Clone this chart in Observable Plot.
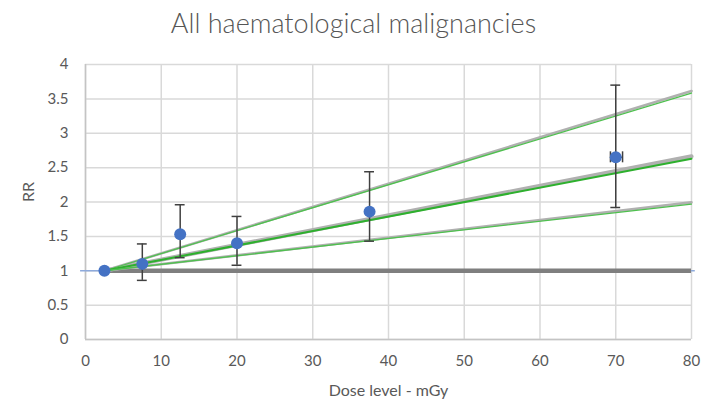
<!DOCTYPE html>
<html>
<head>
<meta charset="utf-8">
<script src="https://cdn.jsdelivr.net/npm/d3@7"></script>
<script src="https://cdn.jsdelivr.net/npm/@observablehq/plot@0.6"></script>
<style>
  html, body { margin: 0; padding: 0; background: #fff; }
  #title { height: 46px; line-height: 46px; text-align: center; font-family: Lato, "Open Sans", sans-serif; font-size: 27px; font-weight: 300; color: #555555; padding-left: 4px; }
  svg { display: block; }
</style>
</head>
<body>
<div id="title">All haematological malignancies</div>
<div id="chart"></div>
<script>
// Data
const dose = [2.5, 7.5, 12.5, 20, 37.5, 70];
const rr = [1.0, 1.1, 1.53, 1.40, 1.86, 2.65];
const rrLower = [null, 0.86, 1.19, 1.08, 1.43, 1.92];
const rrUpper = [null, 1.39, 1.96, 1.79, 2.44, 3.70];
const doseLower = [null, null, null, null, null, 69.3];
const doseUpper = [null, null, null, null, null, 70.9];

// Fitted lines (start at 2.5 mGy, RR 1; end at 80 mGy)
const fitStart = {dose: 2.5, rr: 1};
const fitEndDose = 80;
const fitGrayEnd = [3.615, 2.665, 1.995];
const fitGreenEnd = [3.585, 2.63, 1.97];
const fitWidthScale = [1, 1.6, 1];
const baselineRR = 1;

const xTicks = [0, 10, 20, 30, 40, 50, 60, 70, 80];
const yTicks = [0, 0.5, 1, 1.5, 2, 2.5, 3, 3.5, 4];

const points = dose.map((d, i) => ({dose: d, rr: rr[i], lo: rrLower[i], hi: rrUpper[i], dlo: doseLower[i], dhi: doseUpper[i]}));
const withErr = points.filter(d => d.lo != null);
const withXErr = points.filter(d => d.dlo != null);
const grayLines = fitGrayEnd.flatMap((e, i) => [{k: i, dose: fitStart.dose, rr: fitStart.rr}, {k: i, dose: fitEndDose, rr: e}]);
const greenLines = fitGreenEnd.flatMap((e, i) => [{k: i, dose: fitStart.dose, rr: fitStart.rr}, {k: i, dose: fitEndDose, rr: e}]);

const capHalf = 0.65;
const font = "Lato, 'Open Sans', sans-serif";
const fmt = d => String(d);

const chart = Plot.plot({
  width: 703,
  height: 358,
  marginTop: 18,
  marginBottom: 65,
  marginLeft: 85,
  marginRight: 12,
  style: {fontFamily: font, fontSize: "15px", color: "#595959", background: "#fff"},
  x: {domain: [0, 80], label: null},
  y: {domain: [0, 4], label: null},
  marks: [
    Plot.gridX(xTicks, {stroke: "#d9d9d9", strokeOpacity: 1, strokeWidth: 1.5}),
    Plot.gridY(yTicks, {stroke: "#d9d9d9", strokeOpacity: 1, strokeWidth: 1.5}),
    Plot.ruleX([0], {stroke: "#c4c4c4", strokeWidth: 1.5}),
    Plot.ruleY([0], {stroke: "#c4c4c4", strokeWidth: 1.5}),
    Plot.axisX(xTicks, {tickSize: 0, tickPadding: 16, fontSize: 15, fill: "#595959", label: null, tickFormat: fmt}),
    Plot.axisY(yTicks, {tickSize: 0, tickPadding: 17, fontSize: 15, fill: "#595959", label: null, tickFormat: fmt}),
    Plot.text(["Dose level - mGy"], {frameAnchor: "bottom", lineAnchor: "middle", dy: 51, fontSize: 16, fill: "#595959"}),
    Plot.text(["RR"], {frameAnchor: "left", dx: -57, rotate: -90, fontSize: 16, fill: "#595959"}),
    // light blue reference line
    Plot.ruleY([baselineRR], {x1: -0.65, x2: 80.5, stroke: "#8eaadb", strokeWidth: 1.5, clip: false}),
    // grey baseline
    Plot.ruleY([baselineRR], {x1: fitStart.dose, x2: fitEndDose, stroke: "#7f7f7f", strokeWidth: 4.5}),
    // fitted lines: grey underlay + green overlay
    ...fitGrayEnd.map((_, i) => Plot.line(grayLines.filter(d => d.k === i), {x: "dose", y: "rr", stroke: "#b0b0b0", strokeWidth: 2.6 * fitWidthScale[i]})),
    ...fitGreenEnd.map((_, i) => Plot.line(greenLines.filter(d => d.k === i), {x: "dose", y: "rr", stroke: i === 1 ? "#2eb02e" : "#4fc04f", strokeWidth: 1.3 * fitWidthScale[i]})),
    // error bars
    Plot.ruleX(withErr, {x: "dose", y1: "lo", y2: "hi", stroke: "#404040", strokeWidth: 1.5}),
    Plot.ruleY(withErr, {y: "hi", x1: d => d.dose - capHalf, x2: d => d.dose + capHalf, stroke: "#404040", strokeWidth: 1.5}),
    Plot.ruleY(withErr, {y: "lo", x1: d => d.dose - capHalf, x2: d => d.dose + capHalf, stroke: "#404040", strokeWidth: 1.5}),
    Plot.ruleY(withXErr, {y: "rr", x1: "dlo", x2: "dhi", stroke: "#404040", strokeWidth: 1.5}),
    Plot.ruleX(withXErr, {x: "dlo", y1: d => d.rr - 0.08, y2: d => d.rr + 0.08, stroke: "#404040", strokeWidth: 1.5}),
    Plot.ruleX(withXErr, {x: "dhi", y1: d => d.rr - 0.08, y2: d => d.rr + 0.08, stroke: "#404040", strokeWidth: 1.5}),
    // points
    Plot.dot(points, {x: "dose", y: "rr", r: 6, fill: "#4472c4", stroke: "none"})
  ]
});
document.getElementById("chart").appendChild(chart);
</script>
</body>
</html>
